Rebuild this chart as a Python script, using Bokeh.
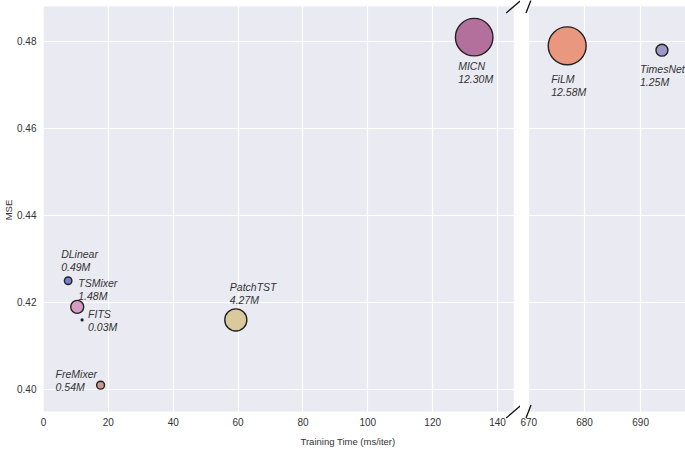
import numpy as np
from bokeh.plotting import figure
from bokeh.models import (ColumnDataSource, FixedTicker, Range1d, NumeralTickFormatter,
                          BoxAnnotation, Title)
from bokeh.layouts import row
from bokeh.embed import file_html
from bokeh.resources import INLINE
from bokeh.core.properties import value

# ---- data ----
models = ["DLinear", "TSMixer", "FITS", "FreMixer", "PatchTST", "MICN", "FiLM", "TimesNet"]
train_time = [7.6, 10.4, 11.9, 17.6, 59.3, 132.8, 676.9, 693.8]
mse = [0.425, 0.419, 0.416, 0.401, 0.416, 0.481, 0.479, 0.478]
params_m = [0.49, 1.48, 0.03, 0.54, 4.27, 12.30, 12.58, 1.25]
x_ticks_left = [0, 20, 40, 60, 80, 100, 120, 140]
x_ticks_right = [670, 680, 690]
y_ticks = [0.40, 0.42, 0.44, 0.46, 0.48]

# panel (axes) limits of the broken x axis
left_lim = (0, 145)
right_lim = (670, 698)
y_lim = (0.39494, 0.48805)

# ---- styling ----
colors = ["#7182d2", "#d69cc6", "#3a3a4a", "#c99a8a", "#d9c99b", "#b3709d", "#e9977f", "#9d97cb"]
label_dx = [-7, 1, 6, -45, -6, -16, -16, -22]
label_dy = [-33, -30, -12, -17, -39, 23, 27, 13]
BG = "#eaeaf2"
FONT = "Liberation Sans"
TXT = "#333333"

labels = [f"{m}\n{p:.2f}M" for m, p in zip(models, params_m)]
sizes = [10.7 * np.sqrt(p) for p in params_m]

# frames are a bit larger than the grey panels so that the break marks fit
y_range = Range1d(0.393103, 0.489425)
p1 = figure(width=520, height=451, x_range=Range1d(0, 147.08), y_range=y_range,
            output_backend="svg", toolbar_location=None,
            min_border_left=43, min_border_right=0, min_border_top=0, min_border_bottom=32)
p2 = figure(width=165, height=451, x_range=Range1d(668.57, 698), y_range=y_range,
            output_backend="svg", toolbar_location=None,
            min_border_left=0, min_border_right=0, min_border_top=0, min_border_bottom=32)


def style(p, xticks, xlim):
    p.background_fill_color = "white"
    p.border_fill_color = "white"
    p.outline_line_color = None
    p.add_layout(BoxAnnotation(left=xlim[0], right=xlim[1], bottom=y_lim[0], top=y_lim[1],
                               fill_color=BG, fill_alpha=1, line_color=None, level="image"))
    p.grid.grid_line_color = "white"
    p.grid.grid_line_width = 1.2
    p.xaxis.ticker = FixedTicker(ticks=xticks)
    p.yaxis.ticker = FixedTicker(ticks=y_ticks)
    p.xgrid.ticker = FixedTicker(ticks=xticks)
    p.ygrid.ticker = FixedTicker(ticks=y_ticks)
    p.yaxis.formatter = NumeralTickFormatter(format="0.00")
    for ax in p.axis:
        ax.axis_line_color = None
        ax.major_tick_line_color = None
        ax.minor_tick_line_color = None
        ax.major_tick_out = 0
        ax.major_tick_in = 0
        ax.major_label_text_font = FONT
        ax.major_label_text_font_size = "10px"
        ax.major_label_text_color = TXT
        ax.axis_label_text_font = FONT
        ax.axis_label_text_font_size = "9.5px"
        ax.axis_label_text_font_style = "normal"
        ax.axis_label_text_color = TXT
    p.xaxis.major_label_standoff = -2
    p.yaxis.major_label_standoff = 7


style(p1, x_ticks_left, left_lim)
style(p2, x_ticks_right, right_lim)
p2.yaxis.visible = False
p1.yaxis.axis_label = "MSE"
p1.yaxis.axis_label_standoff = 0

for p, left in ((p1, True), (p2, False)):
    idx = [i for i, t in enumerate(train_time) if (t < 300) == left]
    src = ColumnDataSource(dict(
        x=[train_time[i] for i in idx],
        y=[mse[i] for i in idx],
        size=[sizes[i] for i in idx],
        color=[colors[i] for i in idx],
        text=[labels[i] for i in idx],
        dx=[label_dx[i] for i in idx],
        dy=[label_dy[i] for i in idx],
    ))
    p.scatter("x", "y", size="size", fill_color="color", line_color="#222222",
              line_width=1.4, source=src)
    p.text("x", "y", text="text", x_offset="dx", y_offset="dy", source=src,
           text_font=value(FONT), text_font_style="italic", text_font_size="10.5px",
           text_color=TXT, text_align="left", text_baseline="top", text_line_height=1.1)

# x axis label, centred like the reference (below the axis)
p1.add_layout(Title(text="Training Time (ms/iter)", align="left", offset=257,
                    text_font=FONT, text_font_size="9.5px", text_font_style="normal",
                    text_color=TXT, standoff=10), "below")

# break marks (size d as a fraction of each grey panel)
d = 0.016
for p, xlim, edge in ((p1, left_lim, 1), (p2, right_lim, 0)):
    dx = d * (xlim[1] - xlim[0])
    dy = d * (y_lim[1] - y_lim[0])
    xe = xlim[edge]
    x0 = [xe - dx, xe - dx]
    x1 = [xe + dx, xe + dx]
    y0 = [y_lim[0] - dy, y_lim[1] - dy]
    y1 = [y_lim[0] + dy, y_lim[1] + dy]
    p.segment(x0, y0, x1, y1, line_color="#111111", line_width=1.3)

layout = row(p1, p2)
open("out.html", "w").write(file_html(layout, INLINE))
